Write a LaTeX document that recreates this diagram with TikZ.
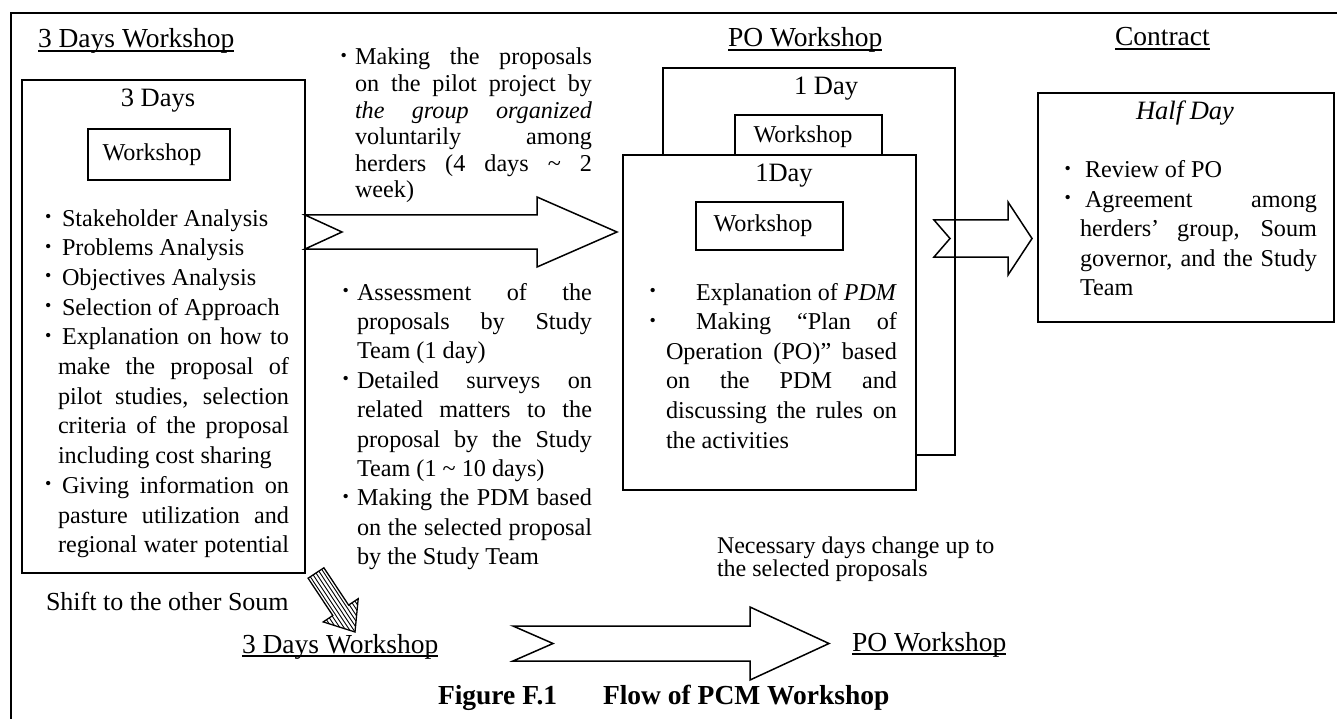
\documentclass[tikz,border=0pt]{standalone}
\usepackage{fontspec}
\setmainfont{Liberation Serif}
\usepackage{graphicx}
\newlength\jlw
\newcommand\Jl[1]{\leavevmode\settowidth\jlw{#1}\ifdim\jlw>\linewidth\resizebox{\linewidth}{\height}{#1}\else\makebox[\linewidth][s]{#1}\fi}
\newcommand\bul[1]{\leavevmode\llap{\raisebox{3.5pt}{\fontsize{18}{18}\selectfont\textbullet}\hspace{#1}}}
\newcommand\bodyfont{\fontsize{24.2}{29.7}\selectfont}
\newcommand\headfont{\fontsize{27.5}{30}\selectfont}
\newcommand\dayfont{\fontsize{26.5}{28}\selectfont}
\begin{document}
\begin{tikzpicture}[x=1pt,y=-1pt,
  bx/.style={draw, line width=1.6pt, inner sep=0, outer sep=0},
  blk/.style={draw, line width=1.5pt, fill=white, line join=miter},
  tx/.style={inner sep=0, outer sep=0, anchor=base west},
  hd/.style={tx, font=\headfont},
  ul/.style={line width=1.3pt}]
\useasboundingbox (0,0) rectangle (1337,719);
\fill[white] (0,0) rectangle (1337,719);
% outer frame
\draw[line width=1.8pt] (11,719) -- (11,13) -- (1337,13);

% ---------- left: 3 days workshop ----------
\node[hd] (h1) at (38,48) {3 Days Workshop};
\draw[ul] ([yshift=-3pt]h1.base west) -- ([yshift=-3pt]h1.base east);
\node[bx, minimum width=283pt, minimum height=493pt] (boxL) at (163.5,326.5) {};
\node[tx, anchor=base, font=\dayfont] (d3) at (158,107) {3 Days};
\node[bx, minimum width=142pt, minimum height=51pt, font=\bodyfont] (wsL) at (159,154.5) {\hspace*{-14pt}Workshop};
\node[tx] (tL) at (58,226) {\parbox[t]{231pt}{\bodyfont
\bul{6.5pt}\hspace*{4pt}Stakeholder Analysis\\
\bul{6.5pt}\hspace*{4pt}Problems Analysis\\
\bul{6.5pt}\hspace*{4pt}Objectives Analysis\\
\bul{6.5pt}\hspace*{4pt}Selection of Approach\\
\Jl{\bul{6.5pt}\hspace*{4pt}Explanation on how to}\\
\Jl{make the proposal of}\\
\Jl{pilot studies, selection}\\
\Jl{criteria of the proposal}\\
including cost sharing\\
\Jl{\bul{6.5pt}\hspace*{4pt}Giving information on}\\
\Jl{pasture utilization and}\\
\Jl{regional water potential}}};

% ---------- arrow 1 ----------
\draw[blk] (305,215) -- (537,215) -- (537,197) -- (617,232) -- (537,267) -- (537,249) -- (305,249) -- (342,232) -- cycle;

% ---------- middle texts ----------
\node[tx] (tM1) at (355,65) {\parbox[t]{237pt}{\fontsize{24.2}{26.6}\selectfont
\Jl{\bul{8pt}Making the proposals}\\
\Jl{on the pilot project by}\\
\Jl{\textit{the group organized}}\\
\Jl{voluntarily among}\\
\Jl{herders (4 days \textasciitilde{} 2}\\
week)}};
\node[tx] (tM2) at (357,300) {\parbox[t]{235pt}{\fontsize{24.2}{29.4}\selectfont
\Jl{\bul{8pt}Assessment of the}\\
\Jl{proposals by Study}\\
Team (1 day)\\
\Jl{\bul{8pt}Detailed surveys on}\\
\Jl{related matters to the}\\
\Jl{proposal by the Study}\\
Team (1 \textasciitilde{} 10 days)\\
\Jl{\bul{8pt}Making the PDM based}\\
\Jl{on the selected proposal}\\
by the Study Team}};

% ---------- arrow 2 (behind back box line) ----------
\draw[blk] (934,220) -- (1008,220) -- (1008,202) -- (1032,238.5) -- (1008,275) -- (1008,257) -- (934,257) -- (950,238.5) -- cycle;

% ---------- PO workshop ----------
\node[hd] (h2) at (728,47) {PO Workshop};
\draw[ul] ([yshift=-3pt]h2.base west) -- ([yshift=-3pt]h2.base east);
\node[bx, minimum width=292pt, minimum height=387pt] (boxB) at (809,261.5) {};
\node[tx, anchor=base, font=\dayfont] (d1b) at (826,95) {1 Day};
\node[bx, minimum width=147pt, minimum height=70pt] (wsB) at (808.5,150) {};
\node[tx, anchor=base, font=\bodyfont] (wsBt) at (803,143) {Workshop};
\node[bx, fill=white, minimum width=293pt, minimum height=335pt] (boxF) at (769.5,322.5) {};
\node[tx, anchor=base, font=\dayfont] (d1f) at (784,182) {1Day};
\node[bx, minimum width=147pt, minimum height=48pt, font=\bodyfont] (wsF) at (769.5,226) {\hspace*{-13pt}Workshop};
\node[tx] (tF) at (666,300) {\parbox[t]{231pt}{\fontsize{24.2}{29.6}\selectfont
\bul{10pt}\hspace*{30pt}\resizebox{201pt}{\height}{Explanation of \textit{PDM}}\\
\Jl{\bul{10pt}\hspace*{30pt}Making “Plan of}\\
\Jl{Operation (PO)” based}\\
\Jl{on the PDM and}\\
\Jl{discussing the rules on}\\
the activities}};
\node[tx] (nec) at (717,553) {\parbox[t]{320pt}{\fontsize{24}{23}\selectfont
Necessary days change up to\\the selected proposals}};

% ---------- contract ----------
\node[hd] (h3) at (1115,46) {Contract};
\draw[ul] ([yshift=-3pt]h3.base west) -- ([yshift=-3pt]h3.base east);
\node[bx, minimum width=296pt, minimum height=229pt] (boxC) at (1186,207.5) {};
\node[tx, anchor=base, font=\dayfont\itshape] (half) at (1185,120) {Half Day};
\node[tx] (tC) at (1080,178) {\parbox[t]{237pt}{\fontsize{24.2}{29.5}\selectfont
\bul{9pt}\hspace*{5pt}Review of PO\\
\Jl{\bul{9pt}\hspace*{5pt}Agreement among}\\
\Jl{herders’ group, Soum}\\
\Jl{governor, and the Study}\\
Team}};

% ---------- bottom ----------
\node[tx, font=\fontsize{26}{28}\selectfont] (shift) at (46,610) {Shift to the other Soum};
% hatched arrow
\fill[white] (323.9,567.8) -- (348.6,605.1) -- (358.2,598.7) -- (355,632) -- (323.2,621.9) -- (332.8,615.5) -- (308.1,578.2) -- cycle;
\begin{scope}
\clip (323.9,567.8) -- (348.6,605.1) -- (358.2,598.7) -- (355,632) -- (323.2,621.9) -- (332.8,615.5) -- (308.1,578.2) -- cycle;
\foreach \k in {-7,...,7} {
  \draw[line width=0.9pt] ({332+\k*3.4*0.834-45*0.552},{597.2-\k*3.4*0.552-45*0.834}) -- ({332+\k*3.4*0.834+45*0.552},{597.2-\k*3.4*0.552+45*0.834});
}
\end{scope}
\draw[line width=1.3pt, line join=miter] (323.9,567.8) -- (348.6,605.1) -- (358.2,598.7) -- (355,632) -- (323.2,621.9) -- (332.8,615.5) -- (308.1,578.2) -- cycle;

\node[hd] (h4) at (242,653) {3 Days Workshop};
\draw[ul] ([yshift=-3pt]h4.base west) -- ([yshift=-3pt]h4.base east);
\draw[blk] (513,626) -- (750,626) -- (750,607) -- (829,643.5) -- (750,680) -- (750,661) -- (513,661) -- (553,643.5) -- cycle;
\node[hd] (h5) at (852,651) {PO Workshop};
\draw[ul] ([yshift=-3pt]h5.base west) -- ([yshift=-3pt]h5.base east);
\node[tx, font=\headfont\bfseries] (fig) at (438,704) {Figure F.1};
\node[tx, font=\headfont\bfseries] (ttl) at (603,704) {Flow of PCM Workshop};
\end{tikzpicture}
\end{document}
